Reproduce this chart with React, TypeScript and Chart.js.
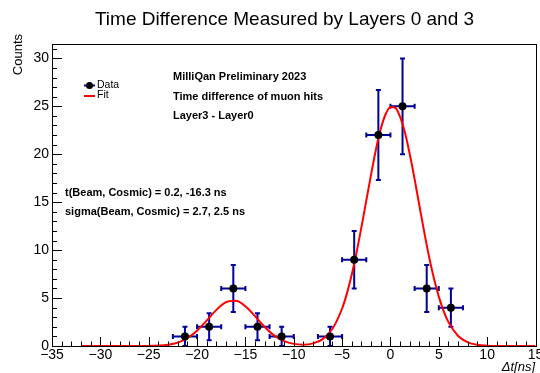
import React, { useEffect, useRef } from "react";
import { Chart, registerables } from "chart.js";

Chart.register(...registerables);

// ---- data ----
const binCenters = [-21.25, -18.75, -16.25, -13.75, -11.25, -6.25, -3.75, -1.25, 1.25, 3.75, 6.25];
const counts = [1, 2, 6, 2, 1, 1, 9, 22, 25, 6, 4];
const countErrors = [1, 1.41, 2.45, 1.41, 1, 1, 3, 4.69, 5, 2.45, 2];
const binHalfWidth = 1.25;

// fit curve
const fitX = [
  -32, -31, -30, -29, -28, -27, -26, -25, -24, -23, -22, -21, -20, -19, -18, -17, -16, -15, -14, -13,
  -12, -11, -10, -9, -8, -7, -6, -5, -4.5, -4, -3.5, -3, -2.5, -2, -1.5, -1, -0.5, 0, 0.5, 1, 1.5, 2,
  2.5, 3, 3.5, 4, 4.5, 5, 5.5, 6, 7, 8, 9, 10, 11, 12, 13, 14, 15,
];
const fitY = [
  0, 0, 0, 0, 0, 0.001, 0.003, 0.011, 0.041, 0.131, 0.353, 0.811, 1.59, 2.65, 3.77, 4.57, 4.72, 4.15, 3.11, 1.99,
  1.08, 0.51, 0.22, 0.14, 0.27, 0.72, 1.79, 3.91, 5.49, 7.45, 9.78, 12.4, 15.16, 17.9, 20.5, 22.65, 24.17, 24.93, 24.85, 23.9, 22.27, 20.0,
  17.4, 14.6, 11.85, 9.29, 7.03, 5.15, 3.64, 2.49, 1.05, 0.385, 0.12, 0.034, 0.007, 0.001, 0, 0, 0,
];

const xTicks = [-35, -30, -25, -20, -15, -10, -5, 0, 5, 10, 15];
const yTicks = [0, 5, 10, 15, 20, 25, 30];
const xMin = -35;
const xMax = 15;
const yMin = 0;
const yMax = 31.5;

const titleText = "Time Difference Measured by Layers 0 and 3";
const yTitle = "Counts";
const xTitle = "\u0394t[ns]";
const infoLines = ["MilliQan Preliminary 2023", "Time difference of muon hits", "Layer3 - Layer0"];
const fitLines = ["t(Beam, Cosmic) = 0.2, -16.3 ns", "sigma(Beam, Cosmic) = 2.7, 2.5 ns"];
const legendLabels = ["Data", "Fit"];

const FONT = '"Liberation Sans", Arial, Helvetica, sans-serif';
const ERR_COLOR = "#000099";
const FIT_COLOR = "#ff0000";

const fmt = (v: number) => (v < 0 ? "\u2212" + Math.abs(v) : String(v));

const decor = {
  id: "rootDecor",
  beforeDatasetsDraw(chart: any) {
    const ctx = chart.ctx;
    const xs = chart.scales.x;
    const ys = chart.scales.y;
    ctx.save();
    ctx.strokeStyle = ERR_COLOR;
    ctx.lineWidth = 2;
    const cap = 2.5;
    for (let i = 0; i < binCenters.length; i++) {
      const cx = xs.getPixelForValue(binCenters[i]);
      const cy = ys.getPixelForValue(counts[i]);
      const x0 = xs.getPixelForValue(binCenters[i] - binHalfWidth);
      const x1 = xs.getPixelForValue(binCenters[i] + binHalfWidth);
      const y0 = ys.getPixelForValue(counts[i] - countErrors[i]);
      const y1 = ys.getPixelForValue(counts[i] + countErrors[i]);
      ctx.beginPath();
      ctx.moveTo(x0, cy);
      ctx.lineTo(x1, cy);
      ctx.moveTo(x0, cy - cap);
      ctx.lineTo(x0, cy + cap);
      ctx.moveTo(x1, cy - cap);
      ctx.lineTo(x1, cy + cap);
      ctx.moveTo(cx, y0);
      ctx.lineTo(cx, y1);
      ctx.moveTo(cx - cap, y0);
      ctx.lineTo(cx + cap, y0);
      ctx.moveTo(cx - cap, y1);
      ctx.lineTo(cx + cap, y1);
      ctx.stroke();
    }
    ctx.restore();
  },
  afterDraw(chart: any) {
    const ctx = chart.ctx;
    const xs = chart.scales.x;
    const ys = chart.scales.y;
    const a = chart.chartArea;
    ctx.save();
    // frame
    ctx.strokeStyle = "#000";
    ctx.lineWidth = 1;
    ctx.strokeRect(Math.round(a.left) + 0.5, Math.round(a.top) + 0.5, Math.round(a.right - a.left), Math.round(a.bottom - a.top));
    // ticks
    ctx.beginPath();
    for (let v = xMin; v <= xMax; v += 1) {
      const px = Math.round(xs.getPixelForValue(v)) + 0.5;
      const len = v % 5 === 0 ? 9 : 4.5;
      ctx.moveTo(px, a.bottom);
      ctx.lineTo(px, a.bottom - len);
    }
    for (let v = yMin; v <= yMax; v += 1) {
      const py = Math.round(ys.getPixelForValue(v)) + 0.5;
      const len = v % 5 === 0 ? 10 : 5;
      ctx.moveTo(a.left, py);
      ctx.lineTo(a.left + len, py);
    }
    ctx.stroke();

    ctx.fillStyle = "#000";
    // title
    ctx.font = `19px ${FONT}`;
    ctx.textAlign = "center";
    ctx.textBaseline = "alphabetic";
    ctx.fillText(titleText, 284.5, 25);

    // y title
    ctx.save();
    ctx.translate(22, 34);
    ctx.rotate(-Math.PI / 2);
    ctx.font = `13px ${FONT}`;
    ctx.textAlign = "right";
    ctx.textBaseline = "alphabetic";
    ctx.fillText(yTitle, 0, 0);
    ctx.restore();

    // x title
    ctx.font = `italic 13px ${FONT}`;
    ctx.textAlign = "right";
    ctx.textBaseline = "alphabetic";
    ctx.fillText(xTitle, 535, 371);

    // info text
    ctx.font = `bold 11px ${FONT}`;
    ctx.textAlign = "left";
    ctx.textBaseline = "middle";
    const infoY = [77, 97, 116];
    infoLines.forEach((t, i) => ctx.fillText(t, 173, infoY[i]));
    const fitTY = [193, 212];
    fitLines.forEach((t, i) => ctx.fillText(t, 65, fitTY[i]));

    // legend
    ctx.lineWidth = 2;
    ctx.strokeStyle = ERR_COLOR;
    ctx.beginPath();
    ctx.moveTo(84, 85.5);
    ctx.lineTo(95, 85.5);
    ctx.stroke();
    ctx.fillStyle = "#000";
    ctx.beginPath();
    ctx.arc(89.5, 85.5, 3.5, 0, Math.PI * 2);
    ctx.fill();
    ctx.strokeStyle = FIT_COLOR;
    ctx.beginPath();
    ctx.moveTo(84, 96);
    ctx.lineTo(95, 96);
    ctx.stroke();
    ctx.font = `10.5px ${FONT}`;
    ctx.textAlign = "left";
    ctx.textBaseline = "middle";
    ctx.fillText(legendLabels[0], 97, 85);
    ctx.fillText(legendLabels[1], 97, 95);
    ctx.restore();
  },
};

export default function App() {
  const ref = useRef<HTMLCanvasElement>(null);
  useEffect(() => {
    document.body.style.margin = "0";
    const canvas = ref.current;
    if (!canvas) return;
    const chart = new Chart(canvas, {
      type: "scatter",
      data: {
        datasets: [
          {
            label: legendLabels[0],
            data: binCenters.map((x, i) => ({ x, y: counts[i] })),
            pointRadius: 4,
            pointBackgroundColor: "#000",
            pointBorderColor: "#000",
            pointBorderWidth: 0,
            showLine: false,
          },
          {
            label: legendLabels[1],
            data: fitX.map((x, i) => ({ x, y: fitY[i] })),
            showLine: true,
            pointRadius: 0,
            borderColor: FIT_COLOR,
            borderWidth: 2,
            cubicInterpolationMode: "monotone",
            clip: false,
          },
        ],
      },
      options: {
        animation: false,
        responsive: false,
        events: [],
        layout: { padding: { top: 44, right: 4.5, left: 0, bottom: 0 } },
        plugins: { legend: { display: false }, tooltip: { enabled: false }, title: { display: false } },
        scales: {
          x: {
            type: "linear",
            min: xMin,
            max: xMax,
            grid: { display: false, drawTicks: false },
            border: { display: false },
            afterBuildTicks: (s: any) => {
              s.ticks = xTicks.map((v) => ({ value: v }));
            },
            afterFit: (s: any) => {
              s.height = 27;
              s.paddingLeft = 0;
              s.paddingRight = 0;
            },
            ticks: {
              maxRotation: 0,
              autoSkip: false,
              padding: 1,
              color: "#000",
              font: { family: FONT, size: 14 },
              callback: (v: any) => fmt(Number(v)),
            },
          },
          y: {
            type: "linear",
            min: yMin,
            max: yMax,
            grid: { display: false, drawTicks: false },
            border: { display: false },
            afterBuildTicks: (s: any) => {
              s.ticks = yTicks.map((v) => ({ value: v }));
            },
            afterFit: (s: any) => {
              s.width = 52;
              s.paddingTop = 0;
              s.paddingBottom = 0;
            },
            ticks: {
              autoSkip: false,
              padding: 3,
              color: "#000",
              font: { family: FONT, size: 14 },
              callback: (v: any) => fmt(Number(v)),
            },
          },
        },
      },
      plugins: [decor],
    } as any);
    return () => chart.destroy();
  }, []);
  return (
    <div style={{ position: "absolute", left: 0, top: 0, width: 540, height: 373 }}>
      <canvas ref={ref} width={540} height={373} style={{ width: 540, height: 373 }} />
    </div>
  );
}
